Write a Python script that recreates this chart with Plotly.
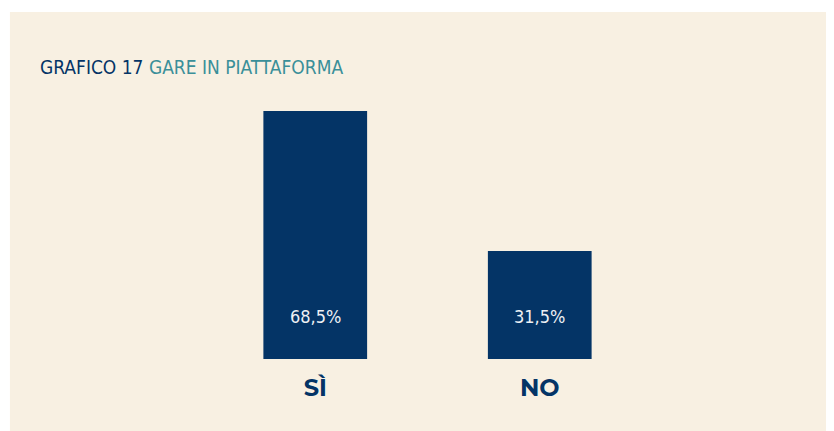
import plotly.graph_objects as go

categories = ["SÌ", "NO"]
values = [68.5, 31.5]
title_part1 = "GRAFICO 17"
title_part2 = "GARE IN PIATTAFORMA"

NAVY = "#043466"
TEAL = "#3A8F99"
BEIGE = "#F8F0E2"

labels = [f"{v:.1f}".replace(".", ",") + "%" for v in values]

fig = go.Figure()
fig.add_trace(go.Bar(
    x=categories, y=values,
    marker=dict(color=NAVY, line=dict(width=0)),
    hoverinfo="x+y",
))

OFF = 8  # page body offset
W, H = 834, 431
ml, mr, mt, mb = 202.5 - OFF, 181.5 + OFF, 111 - OFF, 72 + OFF
pw, ph = W - ml - mr, H - mt - mb

def px_x(px):
    return (px - OFF - ml) / pw

def px_y(py):
    return (H - mb - (py - OFF)) / ph

fig.add_shape(type="rect", xref="paper", yref="paper",
              x0=px_x(9), x1=px_x(860), y0=px_y(12), y1=px_y(460),
              fillcolor=BEIGE, line=dict(width=0), layer="below")

for c, lab in zip(categories, labels):
    fig.add_annotation(x=c, y=0, yref="paper", text=lab, showarrow=False,
                       yanchor="middle", yshift=43,
                       font=dict(family="DejaVu Sans Condensed, Liberation Sans Narrow, sans-serif",
                                 size=18, color="#EEF0F4"))

fig.add_annotation(xref="paper", yref="paper", x=px_x(37), y=px_y(67),
                   xanchor="left", yanchor="middle", showarrow=False,
                   text=f"<span style='color:{NAVY}'>{title_part1}</span> "
                        f"<span style='color:{TEAL}'>{title_part2}</span>",
                   font=dict(family="DejaVu Sans Condensed, Liberation Sans Narrow, sans-serif",
                             size=19))

fig.update_layout(
    width=W, height=H,
    margin=dict(l=ml, r=mr, t=mt, b=mb, autoexpand=False),
    paper_bgcolor="white", plot_bgcolor="rgba(0,0,0,0)",
    bargap=0.538,
    showlegend=False,
    xaxis=dict(showgrid=False, zeroline=False, showline=False, ticks="",
               tickfont=dict(family="Montserrat, Lato, Open Sans, sans-serif", size=24,
                             color=NAVY, weight="bold"),
               ticklabelstandoff=12),
    yaxis=dict(visible=False, range=[2.95, 68.5], fixedrange=True),
)

fig.write_html("out.html")
